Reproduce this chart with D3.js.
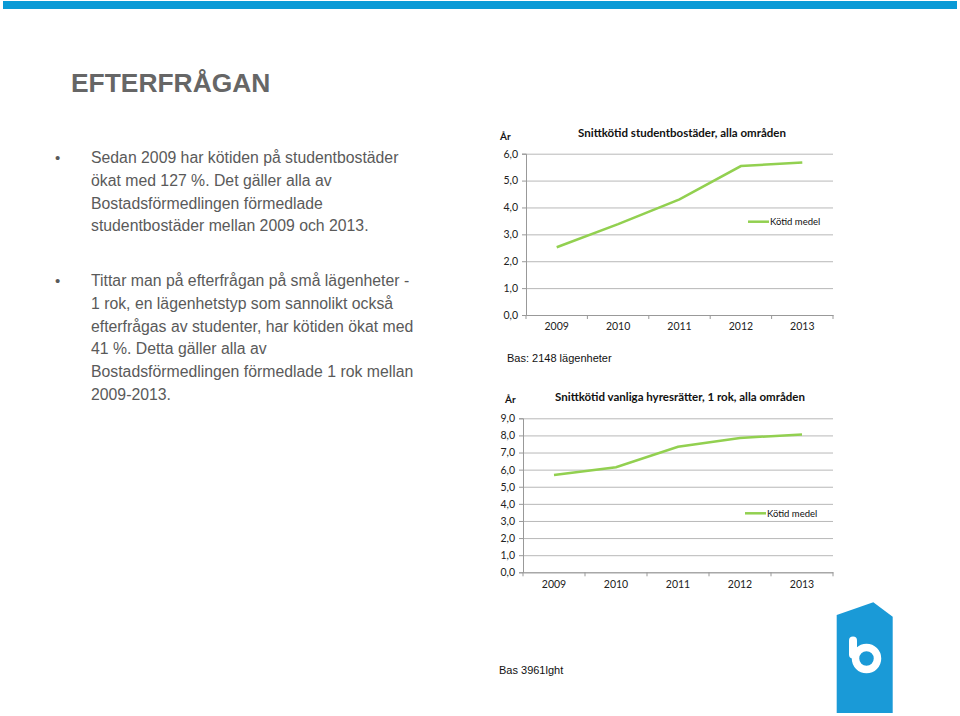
<!DOCTYPE html>
<html>
<head>
<meta charset="utf-8">
<script src="https://cdn.jsdelivr.net/npm/d3@7"></script>
<style>
  body { margin: 0; background: #fff; }
  svg { display: block; }
</style>
</head>
<body>
<script>
var years = ['2009', '2010', '2011', '2012', '2013']
var studentValues = [2.52, 3.38, 4.3, 5.54, 5.67]
var rokValues = [5.69, 6.14, 7.34, 7.85, 8.06]
var studentTicks = [0, 1, 2, 3, 4, 5, 6]
var rokTicks = [0, 1, 2, 3, 4, 5, 6, 7, 8, 9]

var para1 = [
  'Sedan 2009 har kötiden på studentbostäder',
  'ökat med 127 %. Det gäller alla av',
  'Bostadsförmedlingen förmedlade',
  'studentbostäder mellan 2009 och 2013.'
]
var para2 = [
  'Tittar man på efterfrågan på små lägenheter -',
  '1 rok, en lägenhetstyp som sannolikt också',
  'efterfrågas av studenter, har kötiden ökat med',
  '41 %. Detta gäller alla av',
  'Bostadsförmedlingen förmedlade 1 rok mellan',
  '2009-2013.'
]

var width = 960, height = 716
var svg = d3.select('body').append('svg')
  .attr('width', width)
  .attr('height', height)

// top blue bar
svg.append('rect')
  .attr('x', 3).attr('y', 1)
  .attr('width', 954).attr('height', 8)
  .style('fill', '#0a9ad6')

// heading
svg.append('text')
  .attr('x', 71).attr('y', 92)
  .style('font-family', 'Liberation Sans, Arial, sans-serif')
  .style('font-weight', 'bold')
  .style('font-size', '26.4px')
  .style('fill', '#666')
  .text('EFTERFRÅGAN')

function paragraph(lines, y0) {
  svg.append('text')
    .attr('x', 55).attr('y', y0)
    .style('font-family', 'Liberation Sans, Arial, sans-serif')
    .style('font-size', '15px')
    .style('fill', '#5a5a5a')
    .text('•')
  svg.append('g').selectAll('text')
    .data(lines)
    .join('text')
    .attr('x', 91)
    .attr('y', (d, i) => y0 + i * 22.8)
    .style('font-family', 'Liberation Sans, Arial, sans-serif')
    .style('font-size', '15.8px')
    .style('fill', '#5a5a5a')
    .text(d => d)
}
paragraph(para1, 163)
paragraph(para2, 286)

function lineChart(opt) {
  var g = svg.append('g')
  var x = d3.scaleBand().domain(years).range([opt.left, opt.right])
  var y = d3.scaleLinear().domain([0, opt.max]).range([opt.bottom, opt.top])
  var font = 'Lato, Carlito, Calibri, sans-serif'

  // gridlines
  g.append('g')
    .attr('transform', 'translate(' + opt.left + ',0)')
    .call(d3.axisLeft(y).tickValues(opt.ticks).tickSize(-(opt.right - opt.left)).tickFormat(''))
    .call(a => a.select('.domain').remove())
    .call(a => a.selectAll('line').style('stroke', '#b8b8b8'))

  // y axis
  var ya = g.append('g')
    .attr('transform', 'translate(' + opt.left + ',0)')
    .call(d3.axisLeft(y).tickValues(opt.ticks).tickSize(4).tickPadding(4)
      .tickFormat(d => d3.format('.1f')(d).replace('.', ',')))
  ya.select('.domain').style('stroke', '#999')
  ya.selectAll('line').style('stroke', '#999')
  ya.selectAll('text').style('font-family', font).style('font-size', '10.5px').style('fill', '#222')

  // x axis
  var xa = g.append('g')
    .attr('transform', 'translate(0,' + opt.bottom + ')')
    .call(d3.axisBottom(x).tickSize(0).tickPadding(8))
  xa.select('.domain').style('stroke', '#999')
  xa.selectAll('text').style('font-family', font).style('font-size', '10.5px').style('fill', '#222')
  // tick marks at category boundaries
  g.append('g').selectAll('line')
    .data(years.concat(['end']))
    .join('line')
    .attr('x1', (d, i) => opt.left + i * x.step())
    .attr('x2', (d, i) => opt.left + i * x.step())
    .attr('y1', opt.bottom)
    .attr('y2', opt.bottom + 4)
    .style('stroke', '#999')

  // line
  var line = d3.line()
    .x((d, i) => x(years[i]) + x.bandwidth() / 2)
    .y(d => y(d))
  g.append('path')
    .datum(opt.values)
    .attr('d', line)
    .style('fill', 'none')
    .style('stroke', '#92d050')
    .style('stroke-width', 2.5)

  // title and unit
  g.append('text')
    .attr('x', opt.titleX).attr('y', opt.titleY)
    .attr('text-anchor', 'middle')
    .style('font-family', font).style('font-weight', 'bold')
    .style('font-size', '11.5px').style('fill', '#111')
    .text(opt.title)
  g.append('text')
    .attr('x', opt.unitX).attr('y', opt.unitY)
    .style('font-family', font).style('font-weight', 'bold')
    .style('font-size', '10px').style('fill', '#111')
    .text('År')

  // legend
  g.append('line')
    .attr('x1', opt.legX).attr('x2', opt.legX + 21)
    .attr('y1', opt.legY).attr('y2', opt.legY)
    .style('stroke', '#92d050').style('stroke-width', 2.5)
  g.append('text')
    .attr('x', opt.legX + 22).attr('y', opt.legY + 3.5)
    .style('font-family', font).style('font-size', '9.5px').style('fill', '#111')
    .text('Kötid medel')
}

lineChart({
  left: 526, right: 833, top: 153.7, bottom: 315, max: 6,
  ticks: studentTicks, values: studentValues,
  title: 'Snittkötid studentbostäder, alla områden', titleX: 682, titleY: 137,
  unitX: 500, unitY: 140, legX: 748, legY: 221.7
})

lineChart({
  left: 523, right: 833, top: 418.3, bottom: 572.3, max: 9,
  ticks: rokTicks, values: rokValues,
  title: 'Snittkötid vanliga hyresrätter, 1 rok, alla områden', titleX: 680, titleY: 401,
  unitX: 505, unitY: 403, legX: 745, legY: 513.3
})

svg.append('text')
  .attr('x', 507).attr('y', 362)
  .style('font-family', 'Liberation Sans, Arial, sans-serif')
  .style('font-size', '11px').style('fill', '#111')
  .text('Bas: 2148 lägenheter')

svg.append('text')
  .attr('x', 499).attr('y', 674)
  .style('font-family', 'Liberation Sans, Arial, sans-serif')
  .style('font-size', '11px').style('fill', '#111')
  .text('Bas 3961lght')

// logo
var logo = svg.append('g')
logo.append('path')
  .attr('d', 'M836.7,615 L873.3,602.3 L892.7,616.7 L892.7,713 L836.7,713 Z')
  .style('fill', '#1a9ad7')
logo.append('rect')
  .attr('x', 849).attr('y', 636.5).attr('width', 8).attr('height', 22)
  .attr('rx', 4)
  .style('fill', '#fff')
logo.append('circle')
  .attr('cx', 866.5).attr('cy', 658.5).attr('r', 11)
  .style('fill', 'none').style('stroke', '#fff').style('stroke-width', 7.5)
</script>
</body>
</html>
